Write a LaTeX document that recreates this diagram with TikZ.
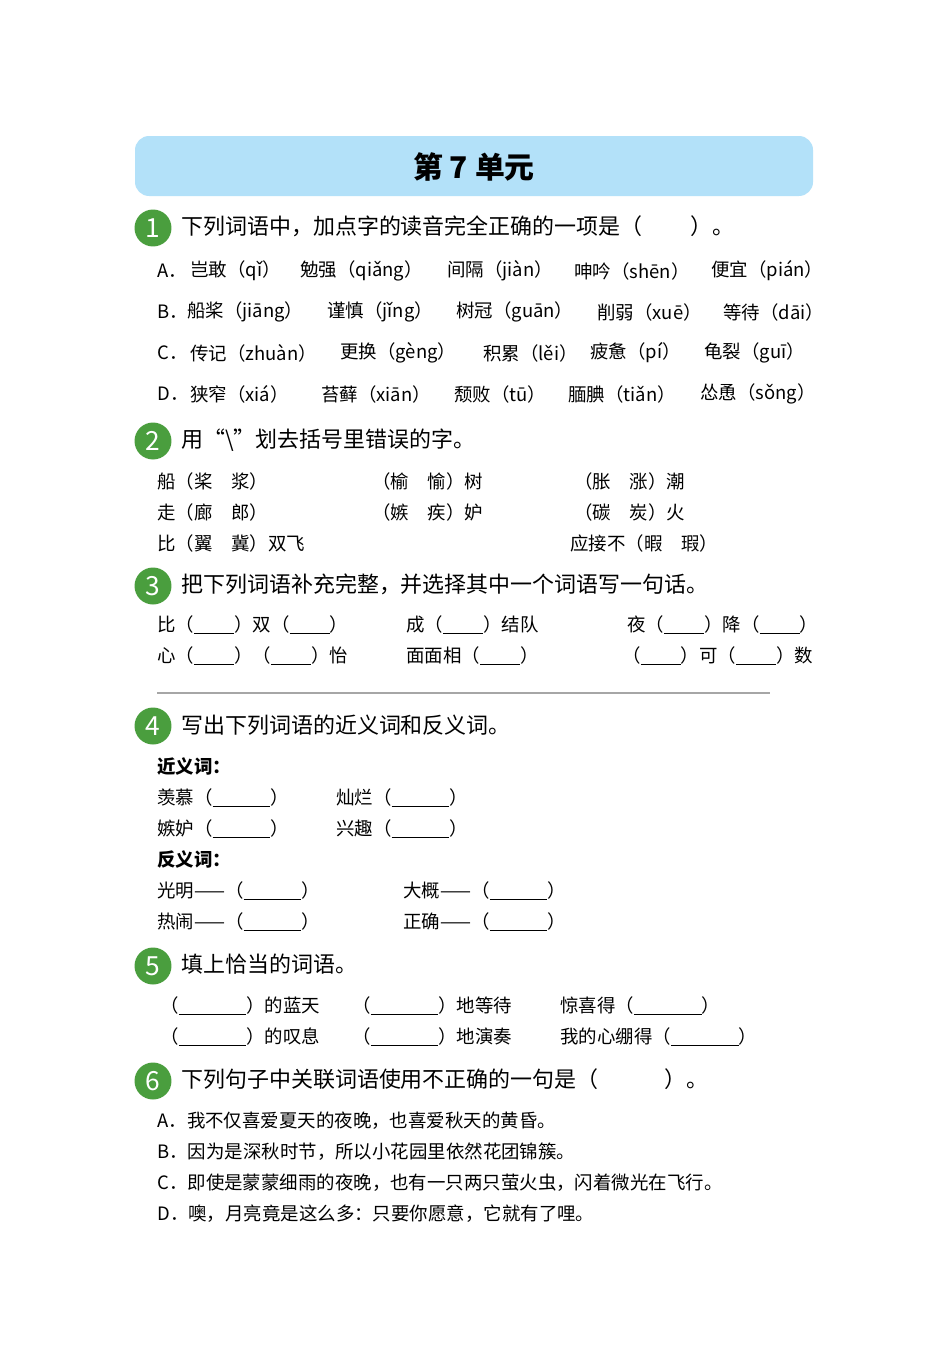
\documentclass[tikz,border=0pt]{standalone}
\usepackage{fontspec}
\setmainfont{Noto Sans CJK SC}
\usetikzlibrary{positioning}
\definecolor{titleblue}{HTML}{B3E1F9}
\definecolor{qgreen}{HTML}{4A9E3E}
\newcommand{\blank}[1]{\underline{\hspace{#1}}}
\tikzset{
  every node/.style={inner sep=0pt, anchor=west, font=\fontsize{10.5}{12}\selectfont},
  qnum/.style={circle, fill=qgreen, minimum size=0.74cm, anchor=center, text=white, font=\fontsize{15}{16}\selectfont},
  qhead/.style={font=\fontsize{12.5}{14}\selectfont},
}
\begin{document}
\begin{tikzpicture}[x=0.02cm, y=-0.02cm]
\useasboundingbox (0,0) rectangle (950,1345);
\fill[white] (0,0) rectangle (950,1345);
\fill[titleblue, rounded corners=8pt] (135,136) rectangle (813,196);
\node[anchor=center, font=\fontsize{17}{18}\selectfont\bfseries] (title) at (474,167) {第 7 单元};

% question 1
\node[qnum] (q1) at (153,228) {1};
\node[qhead] (h1) at (181,226) {下列词语中，加点字的读音完全正确的一项是（\hspace{2.2em}）。};
\node (a1) at (157,271) {A．};
\node (a2) at (190,271) {岂敢（qǐ）};
\node (a3) at (300,271) {勉强（qiǎng）};
\node (a4) at (447,271) {间隔（jiàn）};
\node (a5) at (574,271) {呻吟（shēn）};
\node (a6) at (711,271) {便宜（pián）};
\node (b1) at (157,312) {B．};
\node (b2) at (187,312) {船桨（jiāng）};
\node (b3) at (327,312) {谨慎（jǐng）};
\node (b4) at (456,312) {树冠（guān）};
\node (b5) at (597,312) {削弱（xuē）};
\node (b6) at (723,312) {等待（dāi）};
\node (c1) at (157,353) {C．};
\node (c2) at (190,353) {传记（zhuàn）};
\node (c3) at (340,353) {更换（gèng）};
\node (c4) at (483,353) {积累（lěi）};
\node (c5) at (590,353) {疲惫（pí）};
\node (c6) at (704,353) {龟裂（guī）};
\node (d1) at (157,394) {D．};
\node (d2) at (190,394) {狭窄（xiá）};
\node (d3) at (321,394) {苔藓（xiān）};
\node (d4) at (454,394) {颓败（tū）};
\node (d5) at (568,394) {腼腆（tiǎn）};
\node (d6) at (700,394) {怂恿（sǒng）};

% question 2
\node[qnum] (q2) at (153,441) {2};
\node[qhead] (h2) at (181,440) {用“\textbackslash”划去括号里错误的字。};
\node (w1) at (157,481) {船（桨\quad 浆）};
\node (w2) at (372,481) {（榆\quad 愉）树};
\node (w3) at (574,481) {（胀\quad 涨）潮};
\node (w4) at (157,512) {走（廊\quad 郎）};
\node (w5) at (372,512) {（嫉\quad 疾）妒};
\node (w6) at (574,512) {（碳\quad 炭）火};
\node (w7) at (157,543) {比（翼\quad 冀）双飞};
\node (w8) at (570,543) {应接不（暇\quad 瑕）};

% question 3
\node[qnum] (q3) at (153,586) {3};
\node[qhead] (h3) at (181,584) {把下列词语补充完整，并选择其中一个词语写一句话。};
\node (f1) at (157,625) {比（\blank{0.8cm}）双（\blank{0.8cm}）};
\node (f2) at (406,625) {成（\blank{0.8cm}）结队};
\node (f3) at (627,625) {夜（\blank{0.8cm}）降（\blank{0.8cm}）};
\node (f4) at (157,656) {心（\blank{0.8cm}）（\blank{0.8cm}）怡};
\node (f5) at (406,656) {面面相（\blank{0.8cm}）};
\node (f6) at (622,656) {（\blank{0.8cm}）可（\blank{0.8cm}）数};
\draw[gray!70, line width=0.8pt] (157,693) -- (770,693);

% question 4
\node[qnum] (q4) at (153,726) {4};
\node[qhead] (h4) at (181,725) {写出下列词语的近义词和反义词。};
\node (s0) at (157,767) {\textbf{近义词：}};
\node (s1) at (157,798) {羡慕（\blank{1.15cm}）};
\node (s2) at (336,798) {灿烂（\blank{1.15cm}）};
\node (s3) at (157,829) {嫉妒（\blank{1.15cm}）};
\node (s4) at (336,829) {兴趣（\blank{1.15cm}）};
\node (o0) at (157,860) {\textbf{反义词：}};
\node (o1) at (157,891) {光明——（\blank{1.15cm}）};
\node (o2) at (403,891) {大概——（\blank{1.15cm}）};
\node (o3) at (157,922) {热闹——（\blank{1.15cm}）};
\node (o4) at (403,922) {正确——（\blank{1.15cm}）};

% question 5
\node[qnum] (q5) at (153,966) {5};
\node[qhead] (h5) at (181,964) {填上恰当的词语。};
\node (e1) at (160,1006) {（\blank{1.35cm}）的蓝天};
\node (e2) at (352,1006) {（\blank{1.35cm}）地等待};
\node (e3) at (560,1006) {惊喜得（\blank{1.35cm}）};
\node (e4) at (160,1037) {（\blank{1.35cm}）的叹息};
\node (e5) at (352,1037) {（\blank{1.35cm}）地演奏};
\node (e6) at (560,1037) {我的心绷得（\blank{1.35cm}）};

% question 6
\node[qnum] (q6) at (153,1081) {6};
\node[qhead] (h6) at (181,1079) {下列句子中关联词语使用不正确的一句是（\hspace{3em}）。};
\node (g1) at (157,1121) {A．我不仅喜爱夏天的夜晚，也喜爱秋天的黄昏。};
\node (g2) at (157,1152) {B．因为是深秋时节，所以小花园里依然花团锦簇。};
\node (g3) at (157,1183) {C．即使是蒙蒙细雨的夜晚，也有一只两只萤火虫，闪着微光在飞行。};
\node (g4) at (157,1214) {D．噢，月亮竟是这么多：只要你愿意，它就有了哩。};
\end{tikzpicture}
\end{document}
